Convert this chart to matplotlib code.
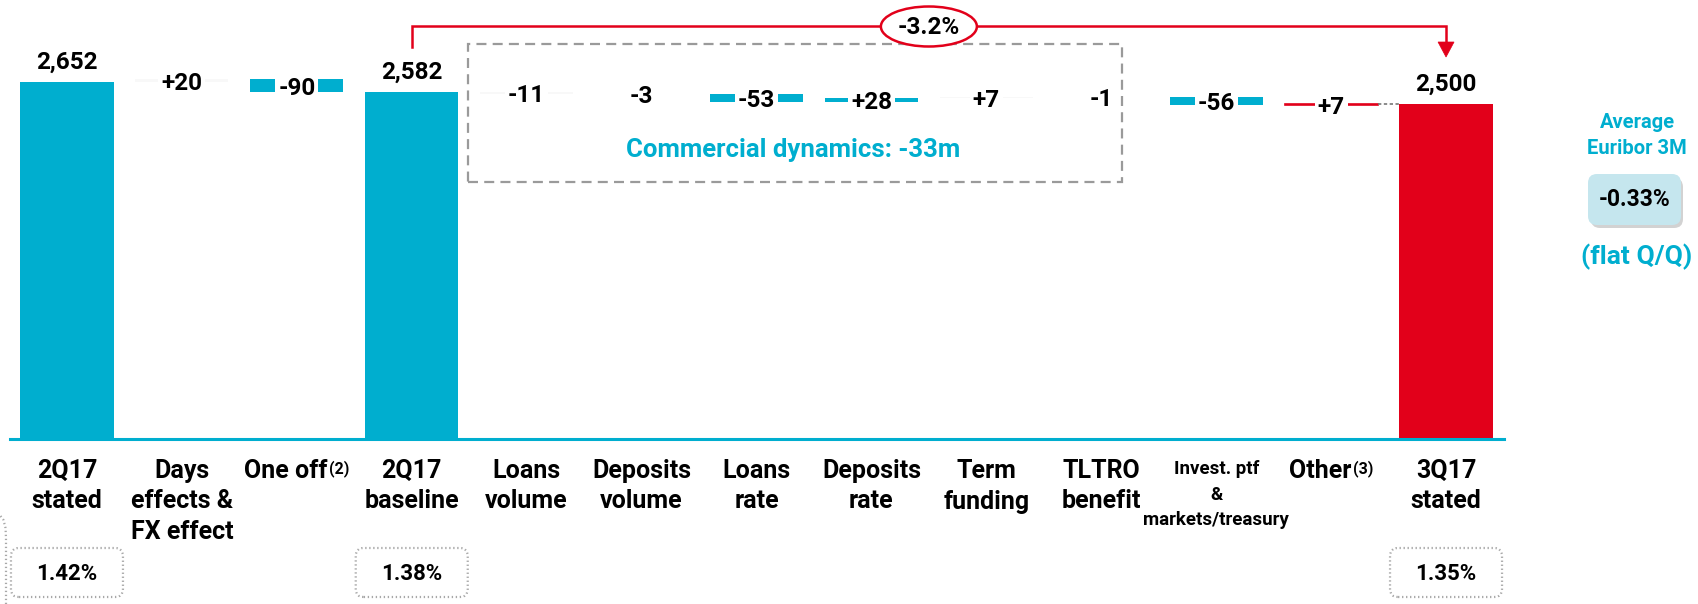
import matplotlib
matplotlib.use("Agg")
import matplotlib.pyplot as plt
from matplotlib import patches
from matplotlib.font_manager import FontProperties
from matplotlib.lines import Line2D

# ---------------- data ----------------
categories = ["2Q17\nstated", "Days\neffects &\nFX effect", "One off", "2Q17\nbaseline",
              "Loans\nvolume", "Deposits\nvolume", "Loans\nrate", "Deposits\nrate",
              "Term\nfunding", "TLTRO\nbenefit", "Invest. ptf\n&\nmarkets/treasury",
              "Other", "3Q17\nstated"]
category_notes = ["", "", "(2)", "", "", "", "", "", "", "", "", "(3)", ""]
values = [2652, 20, -90, 2582, -11, -3, -53, 28, 7, -1, -56, 7, 2500]
is_total = [True, False, False, True, False, False, False, False, False, False, False, False, True]
value_labels = ["2,652", "+20", "-90", "2,582", "-11", "-3", "-53", "+28", "+7", "-1", "-56", "+7", "2,500"]
nim_positions = [0, 3, 12]
nim_labels = ["1.42%", "1.38%", "1.35%"]
change_label = "-3.2%"
commercial_label = "Commercial dynamics: -33m"
euribor_title = ["Average", "Euribor 3M"]
euribor_value = "-0.33%"
euribor_note = "(flat Q/Q)"

# ---------------- style ----------------
CYAN = "#00AECF"
RED = "#E2001A"
LIGHT = "#F8F8F8"
GREY = "#9A9A9A"
bar_colors = [CYAN, LIGHT, CYAN, CYAN, LIGHT, LIGHT, CYAN, CYAN, LIGHT, LIGHT, CYAN, RED, RED]
bar_edges = [0, 0, 0, 0, 0, 0, 0, 0, 0, 0, 0, 1.2, 0]
small_label = [False] * 10 + [True] + [False] * 2

W, H = 1698, 604
YMIN, YMAX = 185, 3219


def fp(size):
    return FontProperties(family=["Roboto", "DejaVu Sans"], weight="bold", size=size)


fig = plt.figure(figsize=(W / 100, H / 100), dpi=100)
ax = fig.add_axes([9.5 / W, 1 - 439 / H, 1494 / W, 439 / H])
ax.set_xlim(-0.5, len(categories) - 0.5)
ax.set_ylim(YMIN, YMAX)
for s in ["top", "left", "right"]:
    ax.spines[s].set_visible(False)
ax.spines["bottom"].set_color(CYAN)
ax.spines["bottom"].set_linewidth(2.2)
ax.set_xticks([])
ax.set_yticks([])

IN = fig.dpi_scale_trans


def pin(px, py):
    return (px / 100.0, (H - py) / 100.0)


def col_px(i):
    return ax.transData.transform((i, YMIN))[0]


def txt(px, py, s, size, color="black", ha="center", va="center", **kw):
    x, y = pin(px, py)
    return fig.text(x, y, s, transform=IN, fontproperties=fp(size), color=color,
                    ha=ha, va=va, **kw)


# ---------------- bars ----------------
BW = 0.81
running = 0
mids = []
for i, v in enumerate(values):
    if is_total[i]:
        bottom, height = YMIN, v - YMIN
        running = v
        mids.append(None)
    else:
        bottom = running if v >= 0 else running + v
        height = abs(v)
        mids.append(running + v / 2.0)
        running += v
    ax.bar(i, height, bottom=bottom, width=BW, color=bar_colors[i], zorder=2,
           edgecolor=bar_colors[i], linewidth=bar_edges[i])

# connector between last step and final total
ax.plot([len(values) - 2 + BW / 2, len(values) - 1 - BW / 2], [values[-1], values[-1]],
        color="#777777", linestyle=(0, (2, 1.5)), linewidth=1.2, zorder=2)

# ---------------- value labels ----------------
for i, lab in enumerate(value_labels):
    if is_total[i]:
        ax.annotate(lab, xy=(i, values[i]), xytext=(0, 14), textcoords="offset points",
                    ha="center", va="center", fontproperties=fp(17.5), zorder=5)
    else:
        ax.annotate(lab, xy=(i, mids[i]), xytext=(0, -2), textcoords="offset points",
                    ha="center", va="center", fontproperties=fp(17.5), zorder=5,
                    bbox=dict(boxstyle="square,pad=0.12", fc="white", ec="none"))

# ---------------- category labels ----------------
for i, lab in enumerate(categories):
    lines = lab.split("\n")
    cx = col_px(i)
    if small_label[i]:
        size, y0, step = 13.5, 469, 25.5
    else:
        size, y0, step = 18, 471, 30.5
    note = category_notes[i]
    shift = -11 if note else 0
    for j, line in enumerate(lines):
        t = txt(cx + shift, y0 + step * j, line, size)
        if note and j == 0:
            ax.annotate(note, xy=(1.0, 0.95), xycoords=t, xytext=(1, 0),
                        textcoords="offset points", ha="left", va="top",
                        fontproperties=fp(11.5), annotation_clip=False)

# ---------------- NIM boxes ----------------
for pos, lab in zip(nim_positions, nim_labels):
    cx = col_px(pos)
    x0, y0 = pin(cx - 54, 595)
    box = patches.FancyBboxPatch((x0, y0), 1.08, 0.45,
                                 boxstyle="round,pad=0.02,rounding_size=0.08",
                                 transform=IN, fc="white", ec="#A8A8A8", lw=1.6,
                                 linestyle=(0, (0.6, 1.2)))
    fig.add_artist(box)
    txt(cx, 574, lab, 16)

# left dotted bracket fragment
xs = [0.5, 3.5, 5.5, 6.0, 6.0]
ys = [516, 520, 528, 538, 604]
fig.add_artist(Line2D([x / 100 for x in xs], [(H - y) / 100 for y in ys], transform=IN,
                      color="#A8A8A8", lw=1.6, linestyle=(0, (0.6, 1.2))))

# ---------------- commercial dynamics box ----------------
bx0, by0 = pin(468, 182)
rect = patches.Rectangle((bx0, by0), (1122 - 468) / 100, (182 - 44) / 100, transform=IN,
                         fill=False, ec=GREY, lw=1.6, linestyle=(0, (4.5, 2.8)), zorder=1)
fig.add_artist(rect)
txt(793, 150, commercial_label, 18.5, color=CYAN)

# ---------------- bracket with change ----------------
x3, x12 = col_px(3), col_px(len(values) - 1)
bxs = [x3, x3, x12, x12]
bys = [47, 26, 26, 44]
fig.add_artist(Line2D([x / 100 for x in bxs], [(H - y) / 100 for y in bys], transform=IN,
                      color=RED, lw=1.8, solid_joinstyle="miter", zorder=2))
head = patches.Polygon([pin(x12 - 8, 42), pin(x12 + 8, 42), pin(x12, 57)], closed=True,
                       transform=IN, fc=RED, ec=RED, lw=0.5, zorder=2)
fig.add_artist(head)
ecx = (x3 + x12) / 2
ell = patches.Ellipse(pin(ecx, 26.5), 0.96, 0.40, transform=IN, fc="white", ec=RED,
                      lw=1.8, zorder=3)
fig.add_artist(ell)
txt(ecx, 27, change_label, 17.5, zorder=4)

# ---------------- Euribor panel ----------------
txt(1637, 122, euribor_title[0], 14.5, color=CYAN)
txt(1637, 148, euribor_title[1], 14.5, color=CYAN)
sx, sy = pin(1591, 228)
shadow = patches.FancyBboxPatch((sx, sy), 0.92, 0.50,
                                boxstyle="round,pad=0,rounding_size=0.09", transform=IN,
                                fc="#9C9C9C", ec="none", alpha=0.45)
fig.add_artist(shadow)
ex, ey = pin(1588, 225)
ebox = patches.FancyBboxPatch((ex, ey), 0.93, 0.51,
                              boxstyle="round,pad=0,rounding_size=0.09", transform=IN,
                              fc="#C5E6EE", ec="none")
fig.add_artist(ebox)
txt(1635, 200, euribor_value, 16.5)
txt(1637, 257, euribor_note, 19, color=CYAN)

fig.savefig("out.png", dpi=100)
